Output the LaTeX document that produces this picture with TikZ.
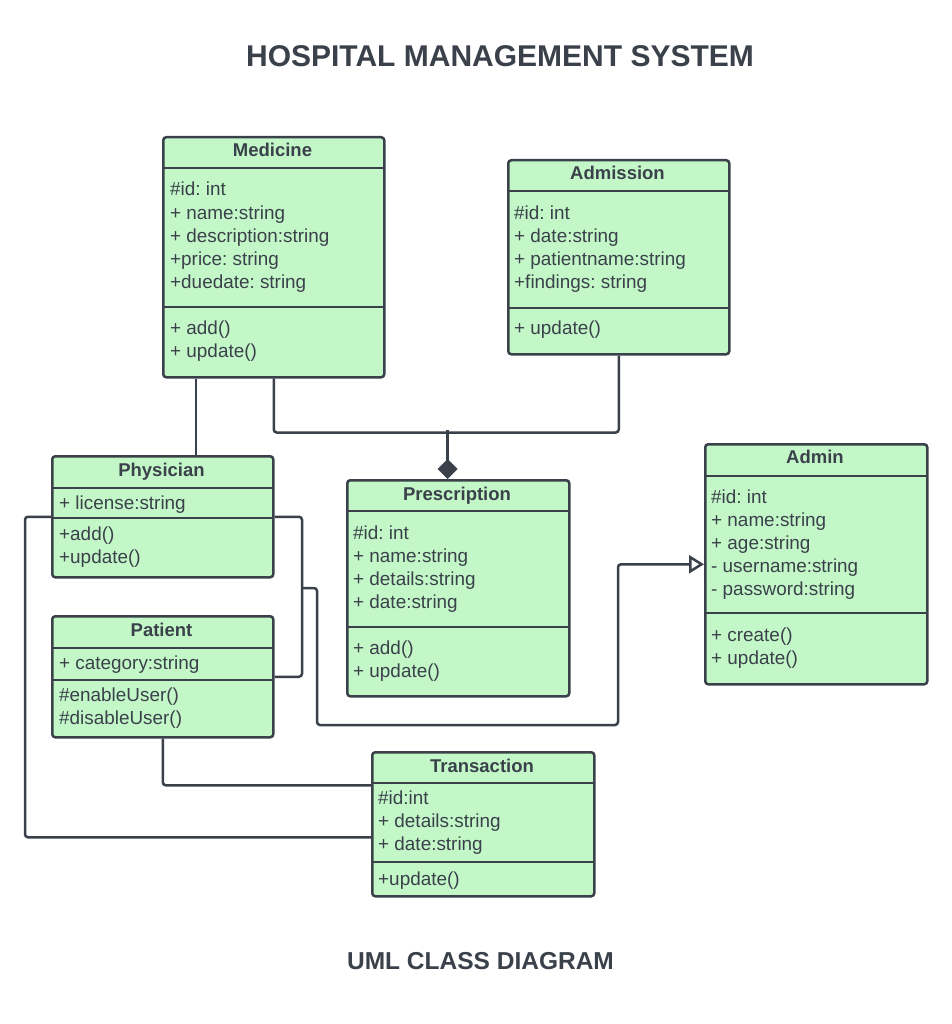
\documentclass[tikz,border=0pt]{standalone}
\usepackage{fontspec}
\setmainfont{Liberation Sans}
\usepackage{tikz}
\usetikzlibrary{arrows.meta}
\usepackage{xcolor}
\definecolor{umlgray}{HTML}{3A414A}
\definecolor{umlgreen}{HTML}{C3F7C8}
\frenchspacing

\tikzset{
  classbox/.style={draw=umlgray, fill=umlgreen, line width=2.5pt, rounded corners=3pt, anchor=north west, inner sep=0pt},
  sepline/.style={draw=umlgray, line width=2.5pt},
  classname/.style={font=\bfseries\fontsize{18.5}{22}\selectfont, text=umlgray, anchor=base, inner sep=0pt},
  member/.style={font=\fontsize{18.9}{23}\selectfont, text=umlgray, anchor=base west, inner sep=0pt},
  heading/.style={font=\bfseries\fontsize{30}{34}\selectfont, text=umlgray, anchor=base, inner sep=0pt},
  link/.style={draw=umlgray, line width=2.5pt, rounded corners=3pt},
}

\begin{document}
\begin{tikzpicture}[x=1pt, y=-1pt]
    % 背景
    \fill[white] (0,0) rectangle (951,1024);

    % 标题
    \node[heading] (maintitle) at (500,67) {HOSPITAL MANAGEMENT SYSTEM};
    \node[heading, font=\bfseries\fontsize{24.5}{28}\selectfont] (subtitle) at (480.5,969) {UML CLASS DIAGRAM};

    % Medicine
    \node[classbox, minimum width=221pt, minimum height=240pt] (medicine) at (162,136) {};
    \draw[sepline] (162,168) -- (383,168) (162,307) -- (383,307);
    \node[classname] (medicine-name) at (272.5,157) {Medicine};
    \foreach \m [count=\i] in {\#id: int, + name:string, + description:string, +price: string, +duedate: string}
        \node[member] (medicine-a\i) at (170,173+23*\i) {\m};
    \foreach \m [count=\i] in {+ add(), + update()}
        \node[member] (medicine-o\i) at (170,311+23*\i) {\m};

    % Admission
    \node[classbox, minimum width=221pt, minimum height=194pt] (admission) at (507,159) {};
    \draw[sepline] (507,191) -- (728,191) (507,308) -- (728,308);
    \node[classname] (admission-name) at (617.5,180) {Admission};
    \foreach \m [count=\i] in {\#id: int, + date:string, + patientname:string, +findings: string}
        \node[member] (admission-a\i) at (514,196+23*\i) {\m};
    \node[member] (admission-o1) at (514,334) {+ update()};

    % Physician
    \node[classbox, minimum width=221pt, minimum height=121pt] (physician) at (51,455) {};
    \draw[sepline] (51,488) -- (272,488) (51,518) -- (272,518);
    \node[classname] (physician-name) at (161.5,476) {Physician};
    \node[member] (physician-a1) at (59,509) {+ license:string};
    \foreach \m [count=\i] in {+add(), +update()}
        \node[member] (physician-o\i) at (59,517+23*\i) {\m};

    % Patient
    \node[classbox, minimum width=221pt, minimum height=121pt] (patient) at (51,615) {};
    \draw[sepline] (51,648) -- (272,648) (51,680) -- (272,680);
    \node[classname] (patient-name) at (161.5,636) {Patient};
    \node[member] (patient-a1) at (59,669) {+ category:string};
    \foreach \m [count=\i] in {\#enableUser(), \#disableUser()}
        \node[member] (patient-o\i) at (59,678+23*\i) {\m};

    % Prescription
    \node[classbox, minimum width=222pt, minimum height=216pt] (prescription) at (346,479) {};
    \draw[sepline] (346,511) -- (568,511) (346,627) -- (568,627);
    \node[classname] (prescription-name) at (457,500) {Prescription};
    \foreach \m [count=\i] in {\#id: int, + name:string, + details:string, + date:string}
        \node[member] (prescription-a\i) at (353,516+23*\i) {\m};
    \foreach \m [count=\i] in {+ add(), + update()}
        \node[member] (prescription-o\i) at (353,631+23*\i) {\m};

    % Admin
    \node[classbox, minimum width=222pt, minimum height=240pt] (admin) at (704,443) {};
    \draw[sepline] (704,476) -- (926,476) (704,613) -- (926,613);
    \node[classname] (admin-name) at (815,463) {Admin};
    \foreach \m [count=\i] in {\#id: int, + name:string, + age:string, - username:string, - password:string}
        \node[member] (admin-a\i) at (711,480+23*\i) {\m};
    \foreach \m [count=\i] in {+ create(), + update()}
        \node[member] (admin-o\i) at (711,618+23*\i) {\m};

    % Transaction
    \node[classbox, minimum width=222pt, minimum height=144pt] (transaction) at (371,751) {};
    \draw[sepline] (371,783) -- (593,783) (371,862) -- (593,862);
    \node[classname] (transaction-name) at (482,772) {Transaction};
    \foreach \m [count=\i] in {\#id:int, + details:string, + date:string}
        \node[member] (transaction-a\i) at (378,781+23*\i) {\m};
    \node[member] (transaction-o1) at (378,885) {+update()};

    % 关联
    \draw[link] ([xshift=34pt]medicine.south west) -- ([xshift=145pt]physician.north west);
    \draw[link] (medicine.south) -- ++(0,54) -| (admission.south);
    \coordinate (join) at (447.5,430);
    \draw[link, -{Diamond[length=20pt, width=20pt]}] (join) -- (join |- prescription.north);

    % 继承
    \coordinate (bus) at (302,588);
    \draw[link] (physician.east) -| (bus) |- (patient.east);
    \draw[link, -{Triangle[open, fill=white, length=15pt, width=18pt]}] (bus) -- ++(15,0) -- ++(0,137) -| ([xshift=-86pt]admin.west) -- (admin.west);

    % Transaction 连线
    \draw[link] (patient.south) |- ([yshift=39pt]transaction.west);
    \draw[link] (physician.west) -- ++(-26,0) |- ([yshift=-13pt]transaction.west);
\end{tikzpicture}
\end{document}
